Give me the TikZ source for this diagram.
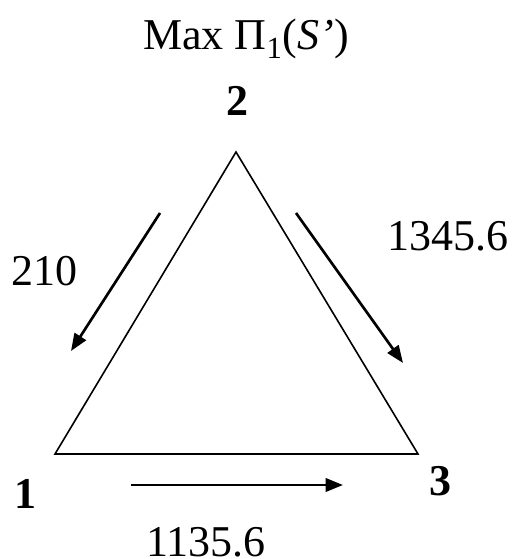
\documentclass[tikz,border=0pt]{standalone}
\usepackage{fontspec}
\setmainfont{Liberation Serif}
\usetikzlibrary{arrows.meta, positioning}

\begin{document}
\begin{tikzpicture}[x=0.75pt, y=-0.75pt,
  vlabel/.style={font=\fontsize{33}{38}\selectfont\bfseries, inner sep=0pt},
  flabel/.style={font=\fontsize{33}{38}\selectfont, inner sep=0pt},
  flow/.style={line width=2pt, -{Triangle[length=13pt, width=10pt]}}]
  \useasboundingbox (0,0) rectangle (513,559);

  % Title
  \node[flabel, anchor=base] (title) at (246,50) {Max Π\textsubscript{1}(\textit{S’})};

  % Triangle corners
  \coordinate (c2) at (236,152);
  \coordinate (c1) at (55,454);
  \coordinate (c3) at (418,454);
  \draw[line width=1.2pt, line join=miter] (c2) -- (c1) -- (c3) -- cycle;

  % Player labels
  \node[vlabel, anchor=base] (p2) at (237,116) {2};
  \node[vlabel, anchor=base] (p1) at (25,508) {1};
  \node[vlabel, anchor=base] (p3) at (440,495) {3};

  % Flows
  \coordinate (a21) at (160,213);
  \coordinate (b21) at (71,351);
  \coordinate (a23) at (296,213);
  \coordinate (b23) at (403,363);
  \coordinate (a13) at (131,485);
  \coordinate (b13) at (343,485);
  \draw[flow] (a21) -- (b21);
  \draw[flow] (a23) -- (b23);
  \draw[flow] (a13) -- (b13);

  % Amounts
  \node[flabel, anchor=base] (v21) at (45,285) {210};
  \node[flabel, anchor=base] (v23) at (448,250) {1345.6};
  \node[flabel, anchor=base] (v13) at (206,556) {1135.6};
\end{tikzpicture}
\end{document}
